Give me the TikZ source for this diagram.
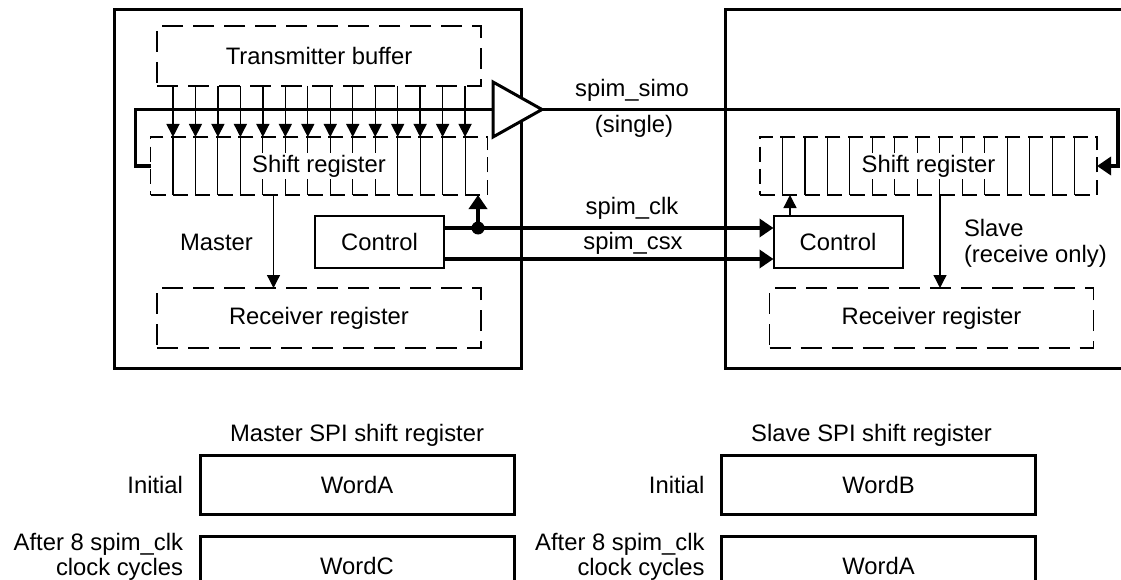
\documentclass[tikz,border=0pt]{standalone}
\usepackage{fontspec}
\setmainfont{Liberation Sans}
\usetikzlibrary{positioning,arrows.meta}

\begin{document}
\begin{tikzpicture}[x=1pt, y=-1pt,
    font=\fontsize{23.8pt}{26pt}\selectfont,
    every node/.style={outer sep=0pt},
    frame/.style={rectangle, draw, line width=3pt, minimum width=407pt, minimum height=358pt},
    dbox/.style={rectangle, draw, line width=1.8pt, dash pattern=on 21pt off 10pt, minimum width=324pt, minimum height=60pt},
    sreg/.style={rectangle, draw, line width=1.1pt, dash pattern=on 15pt off 7.47pt, minimum width=337pt, minimum height=58pt},
    ctrl/.style={rectangle, draw, line width=2pt, minimum width=129pt, minimum height=52pt},
    word/.style={rectangle, draw, line width=3pt, minimum width=314pt, minimum height=59pt},
    lbl/.style={inner sep=0pt, align=left},
    after/.style={lbl, align=right, font=\fontsize{23.8pt}{25pt}\selectfont},
    cell/.style={line width=1.1pt},
    arrow/.style={-{Triangle[length=13pt, width=13pt]}, line width=1.3pt},
    bus/.style={line width=3.5pt},
    busarrow/.style={bus, -{Triangle[length=14pt, width=18pt]}},
    dot/.style={circle, fill, inner sep=0pt, minimum size=13pt}]

    \useasboundingbox (0,0) rectangle (1121,580);
    \clip (0,0) rectangle (1121,580);

    \node[frame] (master) at (317.5,189) {};
    \node[frame, minimum width=475pt] (slave) at (962.5,189) {};

    \node[dbox] (txbuf) at (319,56) {Transmitter buffer};
    \node[sreg, below=51pt of txbuf] (mshift) {};
    \node[dbox, below=93pt of mshift] (mrecv) {Receiver register};
    \node[ctrl] (mctrl) at (379.5,242) {Control};
    \node[lbl] (mlabel) at (216.5,242) {Master};

    \node[sreg] (sshift) at (928.5,166) {};
    \node[dbox, below=93pt of sshift, xshift=3pt] (srecv) {Receiver register};
    \node[ctrl] (sctrl) at (838,242) {Control};
    \node[lbl, anchor=west] (slabel) at (964,243) {Slave\\(receive only)};

    \foreach \reg in {mshift, sshift}
        \foreach \i in {1,...,14}
            \draw[cell] ([xshift=\i*22.47pt]\reg.north west) -- ([xshift=\i*22.47pt]\reg.south west);
    \node[fill=white, inner sep=2pt] (mshifttext) at (mshift) {Shift register};
    \node[fill=white, inner sep=2pt] (sshifttext) at (sshift) {Shift register};

    \foreach \i in {1,...,14}
        \draw[arrow] ([xshift=\i*22.47pt, yshift=51pt]mshift.north west) -- ([xshift=\i*22.47pt]mshift.north west);

    \coordinate (drvin) at (493,109.5);
    \draw[bus] (mshift.west) -- ++(-15,0) |- (drvin);
    \draw[line width=3pt, fill=white] (493,82) -- (542,109.5) coordinate (drvout) -- (493,137) -- cycle;
    \draw[busarrow] (drvout) -| ([xshift=21pt]sshift.east) -- (sshift.east);

    \draw[busarrow] ([yshift=14pt]mctrl.east) -- ([yshift=14pt]sctrl.west);
    \draw[busarrow] ([yshift=-17pt]mctrl.east) -- ([yshift=-17pt]sctrl.west);
    \node[dot] (clkdot) at ([xshift=34pt, yshift=14pt]mctrl.east) {};
    \draw[busarrow] (clkdot) -- (clkdot |- mshift.south);
    \draw[arrow] ([xshift=-48pt]sctrl.north) -- ([xshift=-48pt, yshift=21pt]sctrl.north);

    \draw[arrow] ([xshift=-45.5pt]mshift.south) -- ([xshift=-45.5pt, yshift=-93pt]mshift.south);
    \draw[arrow] ([xshift=11.5pt]sshift.south) -- ([xshift=11.5pt, yshift=-93pt]sshift.south);

    \node (simolbl) at (632,90) {spim\_simo};
    \node (singlelbl) at (634,126) {(single)};
    \node (clklbl) at (632,208) {spim\_clk};
    \node (csxlbl) at (633,243) {spim\_csx};

    \node[word] (mworda) at (357,485) {WordA};
    \node[word, below=22pt of mworda] (mwordc) {WordC};
    \node[lbl, above=9pt of mworda] (mtitle) {Master SPI shift register};
    \node[lbl, left=17pt of mworda] (minit) {Initial};
    \node[after, left=17pt of mwordc, yshift=9pt] (mafter) {After 8 spim\_clk\\clock cycles};

    \node[word] (swordb) at (878.5,485) {WordB};
    \node[word, below=22pt of swordb] (sworda) {WordA};
    \node[lbl, above=9pt of swordb, xshift=-7pt] (stitle) {Slave SPI shift register};
    \node[lbl, left=17pt of swordb] (sinit) {Initial};
    \node[after, left=17pt of sworda, yshift=9pt] (safter) {After 8 spim\_clk\\clock cycles};
\end{tikzpicture}
\end{document}
